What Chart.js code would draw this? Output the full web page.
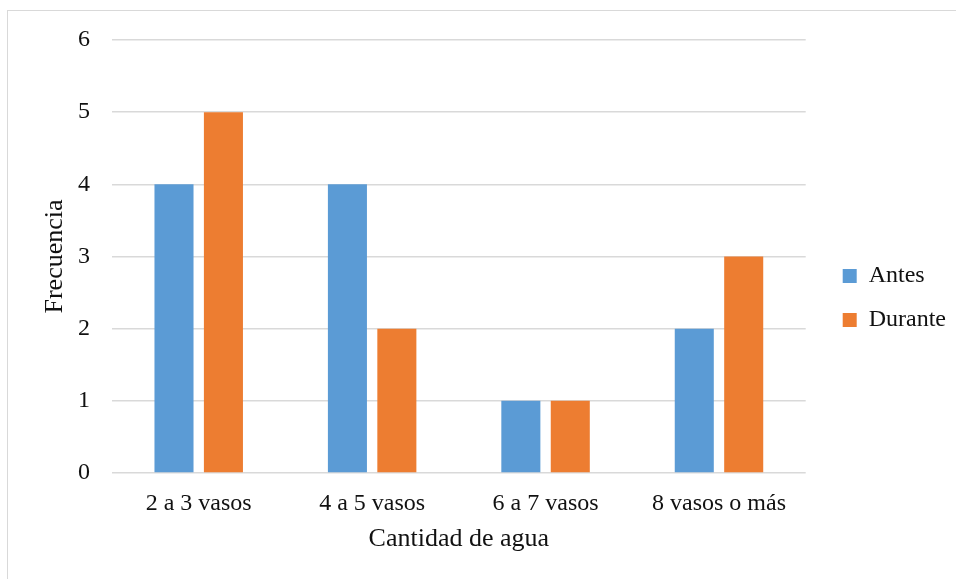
<!DOCTYPE html>
<html lang="es">
<head>
<meta charset="utf-8">
<title>Cantidad de agua</title>
<script src="https://cdn.jsdelivr.net/npm/chart.js@4"></script>
<style>
    html, body { margin: 0; padding: 0; background: #ffffff; }
    #wrap { position: relative; width: 956px; height: 579px; overflow: hidden; }
    #frame {
        position: absolute; left: 7px; top: 10px; width: 1000px; height: 1000px;
        border-left: 1px solid #d9d9d9; border-top: 1px solid #d9d9d9;
    }
    #water-chart { position: absolute; left: 0; top: 0; }
</style>
</head>
<body>
<div id="wrap">
    <div id="frame"></div>
    <canvas id="water-chart" width="956" height="579"></canvas>
</div>
<script>
const categories = ["2 a 3 vasos", "4 a 5 vasos", "6 a 7 vasos", "8 vasos o más"];
const antes = [4, 4, 1, 2];
const durante = [5, 2, 1, 3];
const yTicks = [0, 1, 2, 3, 4, 5, 6];

const serif = "'Liberation Serif', 'Times New Roman', serif";
const textColor = "#111111";
const gridColor = "#d9d9d9";

Chart.defaults.font.family = serif;
Chart.defaults.color = textColor;

const ctx = document.getElementById("water-chart");
new Chart(ctx, {
    type: "bar",
    data: {
        labels: categories,
        datasets: [
            {
                label: "Antes",
                data: antes,
                backgroundColor: "#5b9bd5",
                categoryPercentage: 0.57,
                barPercentage: 0.79,
            },
            {
                label: "Durante",
                data: durante,
                backgroundColor: "#ed7d31",
                categoryPercentage: 0.57,
                barPercentage: 0.79,
            },
        ],
    },
    options: {
        responsive: false,
        animation: false,
        layout: {
            padding: { left: 0, top: 40, right: 0, bottom: 23 },
        },
        plugins: {
            tooltip: { enabled: false },
            legend: {
                display: true,
                position: "right",
                align: "center",
                labels: {
                    boxWidth: 14,
                    boxHeight: 14,
                    padding: 20,
                    color: textColor,
                    font: { size: 24 },
                },
            },
        },
        scales: {
            x: {
                grid: { display: false },
                border: { display: false },
                ticks: {
                    padding: 8,
                    font: { size: 24 },
                    color: textColor,
                },
                title: {
                    display: true,
                    text: "Cantidad de agua",
                    font: { size: 26 },
                    color: textColor,
                    padding: { top: 0, bottom: 1 },
                },
                afterFit: function (axis) {
                    axis.height = 83;
                },
            },
            y: {
                min: 0,
                max: 6,
                afterBuildTicks: function (axis) {
                    axis.ticks = yTicks.map((v) => ({ value: v }));
                },
                grid: {
                    color: gridColor,
                    lineWidth: 1.5,
                    drawTicks: false,
                },
                border: { display: false },
                ticks: {
                    padding: 22,
                    font: { size: 24 },
                    color: textColor,
                },
                title: {
                    display: true,
                    text: "Frecuencia",
                    font: { size: 26 },
                    color: textColor,
                    padding: { top: 40, bottom: 0 },
                },
                afterFit: function (axis) {
                    axis.width = 112;
                },
            },
            // empty spacer between plot and legend
            gap: {
                type: "linear",
                position: "right",
                display: true,
                grid: { display: false },
                border: { display: false },
                ticks: { display: false },
                afterFit: function (axis) {
                    axis.width = 17;
                },
            },
        },
    },
});
</script>
</body>
</html>
